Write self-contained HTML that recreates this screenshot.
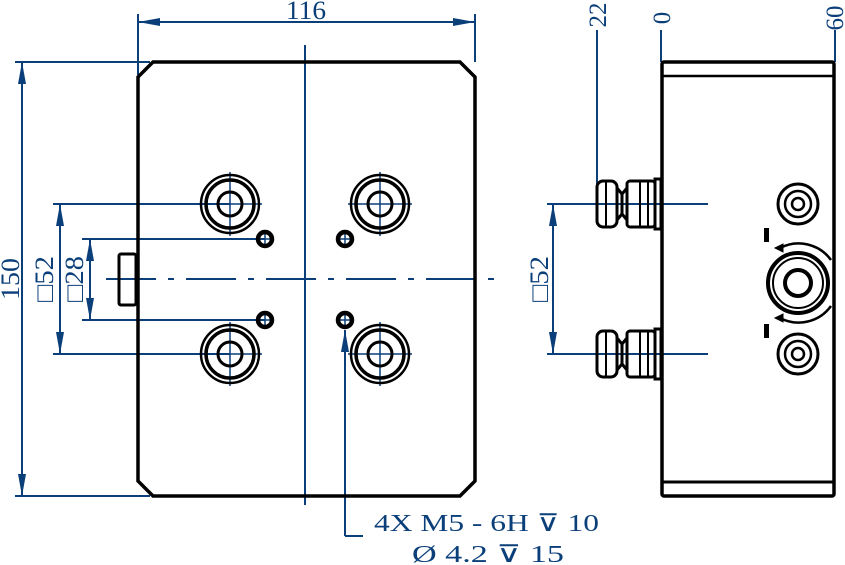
<!DOCTYPE html>
<html><head><meta charset="utf-8"><style>html,body{margin:0;padding:0;background:#fff}svg{display:block}</style></head><body>
<svg width="845" height="565" viewBox="0 0 845 565" xmlns="http://www.w3.org/2000/svg">
<defs>
<marker id="a" markerWidth="22" markerHeight="10" refX="22" refY="5" orient="auto-start-reverse" markerUnits="userSpaceOnUse"><path d="M0,1 L22,5 L0,9 Z" fill="#0b3f7a"/></marker>
</defs>
<g stroke="#0b3f7a" stroke-width="2" fill="none">
<line x1="138" y1="14" x2="138" y2="75"/><line x1="475" y1="14" x2="475" y2="62"/>
<line x1="138" y1="22" x2="475" y2="22" marker-start="url(#a)" marker-end="url(#a)"/>
<line x1="15" y1="62" x2="150" y2="62"/><line x1="15" y1="496" x2="150" y2="496"/>
<line x1="22" y1="62" x2="22" y2="496" marker-start="url(#a)" marker-end="url(#a)"/>
<line x1="53" y1="204" x2="230" y2="204"/><line x1="53" y1="354" x2="230" y2="354"/>
<line x1="60" y1="204" x2="60" y2="354" marker-start="url(#a)" marker-end="url(#a)"/>
<line x1="82" y1="239" x2="265" y2="239"/><line x1="82" y1="320" x2="265" y2="320"/>
<line x1="90" y1="239" x2="90" y2="320" marker-start="url(#a)" marker-end="url(#a)"/>
<line x1="106" y1="279" x2="500" y2="279" stroke-dasharray="50,12,6,12"/>
<line x1="305" y1="45" x2="305" y2="505"/>
<line x1="345" y1="330" x2="345" y2="536" marker-start="url(#a)"/>
<line x1="345" y1="536" x2="363" y2="536"/>
<line x1="597" y1="30" x2="597" y2="185"/>
<line x1="661" y1="30" x2="661" y2="62"/>
<line x1="835" y1="30" x2="835" y2="62"/>
<line x1="547" y1="204" x2="708" y2="204"/><line x1="547" y1="354" x2="708" y2="354"/>
<line x1="553" y1="204" x2="553" y2="354" marker-start="url(#a)" marker-end="url(#a)"/>
</g>
<g stroke="#0b3f7a" stroke-width="1.5">
<path d="M198,204h64M230,172v64M348,204h64M380,172v64M198,354h64M230,322v64M348,354h64M380,322v64"/>
<path d="M260,239h10M265,234v10M340,239h10M345,234v10M260,320h10M265,315v10M340,320h10M345,315v10"/>
</g>
<g stroke="#000" fill="none">
<path d="M153,62 H460 L475,77 V481 L460,496 H153 L138,481 V77 Z" stroke-width="3.5"/>
<rect x="119" y="254" width="17" height="51" rx="2" stroke-width="3"/>
<g stroke-width="3">
<circle cx="230" cy="204" r="29" stroke-width="2.5"/><circle cx="230" cy="204" r="24" stroke-width="3.5"/><circle cx="230" cy="204" r="12"/>
<circle cx="380" cy="204" r="29" stroke-width="2.5"/><circle cx="380" cy="204" r="24" stroke-width="3.5"/><circle cx="380" cy="204" r="12"/>
<circle cx="230" cy="354" r="29" stroke-width="2.5"/><circle cx="230" cy="354" r="24" stroke-width="3.5"/><circle cx="230" cy="354" r="12"/>
<circle cx="380" cy="354" r="29" stroke-width="2.5"/><circle cx="380" cy="354" r="24" stroke-width="3.5"/><circle cx="380" cy="354" r="12"/>
</g>
<g stroke-width="4.5"><circle cx="265" cy="239" r="7"/><circle cx="345" cy="239" r="7"/><circle cx="265" cy="320" r="7"/><circle cx="345" cy="320" r="7"/></g>
<rect x="662" y="62" width="172" height="434" rx="2" stroke-width="3.5"/>
<line x1="662" y1="76" x2="834" y2="76" stroke-width="2.5"/>
<line x1="662" y1="482" x2="834" y2="482" stroke-width="3"/>
<g stroke-width="3">
<rect x="597" y="181" width="20" height="46" rx="6"/>
<path d="M617,188 L622,194 V214 L617,220 M627,188 L622,194 M627,220 L622,214"/>
<rect x="627" y="181" width="28" height="46" rx="3"/>
<rect x="655" y="179" width="6" height="50"/>
<line x1="606" y1="182" x2="606" y2="226" stroke-width="2"/><line x1="640" y1="182" x2="640" y2="226" stroke-width="2"/><line x1="648" y1="182" x2="648" y2="226" stroke-width="2"/>
<rect x="597" y="331" width="20" height="46" rx="6"/>
<path d="M617,338 L622,344 V364 L617,370 M627,338 L622,344 M627,370 L622,364"/>
<rect x="627" y="331" width="28" height="46" rx="3"/>
<rect x="655" y="329" width="6" height="50"/>
<line x1="606" y1="332" x2="606" y2="376" stroke-width="2"/><line x1="640" y1="332" x2="640" y2="376" stroke-width="2"/><line x1="648" y1="332" x2="648" y2="376" stroke-width="2"/>
</g>
<g stroke-width="3">
<circle cx="798" cy="204" r="20"/><circle cx="798" cy="204" r="13" stroke-width="2.5"/><circle cx="798" cy="204" r="6" stroke-width="2.5"/>
<circle cx="798" cy="354" r="20"/><circle cx="798" cy="354" r="13" stroke-width="2.5"/><circle cx="798" cy="354" r="6" stroke-width="2.5"/>
<circle cx="798" cy="283" r="30" stroke-width="4"/><circle cx="798" cy="283" r="25" stroke-width="2"/><circle cx="798" cy="283" r="13" stroke-width="4"/>
<path d="M780,248 A40,40 0 0 1 831,260" stroke-width="2.5"/>
<path d="M780,318 A40,40 0 0 0 831,306" stroke-width="2.5"/>
</g>
<path d="M775,248 l8,-4 v8 z M775,318 l8,-4 v8 z" fill="#000" stroke-width="1"/>
<rect x="764" y="228" width="5" height="14" fill="#000" stroke="none"/>
<rect x="764" y="324" width="5" height="14" fill="#000" stroke="none"/>
</g>
<g fill="#0b3f7a" font-family="'Liberation Serif', serif" font-size="26">
<text x="306" y="19" text-anchor="middle" textLength="40" lengthAdjust="spacingAndGlyphs">116</text>
<text transform="translate(19,279) rotate(-90)" text-anchor="middle" textLength="42" lengthAdjust="spacingAndGlyphs">150</text>
<text transform="translate(53,279) rotate(-90)" text-anchor="middle" textLength="46" lengthAdjust="spacingAndGlyphs">□52</text>
<text transform="translate(83,279) rotate(-90)" text-anchor="middle" textLength="46" lengthAdjust="spacingAndGlyphs">□28</text>
<text transform="translate(548,279) rotate(-90)" text-anchor="middle" textLength="46" lengthAdjust="spacingAndGlyphs">□52</text>
<text transform="translate(606,15) rotate(-90)" text-anchor="middle" font-size="25">22</text>
<text transform="translate(670,18) rotate(-90)" text-anchor="middle" font-size="25">0</text>
<text transform="translate(843,18) rotate(-90)" text-anchor="middle" font-size="25">60</text>
<text x="374" y="531" font-size="24" textLength="225" lengthAdjust="spacingAndGlyphs">4X  M5 - 6H ⊽ 10</text>
<text x="412" y="562" font-size="24" textLength="152" lengthAdjust="spacingAndGlyphs">Ø 4.2 ⊽ 15</text>
</g>
</svg>
</body></html>
